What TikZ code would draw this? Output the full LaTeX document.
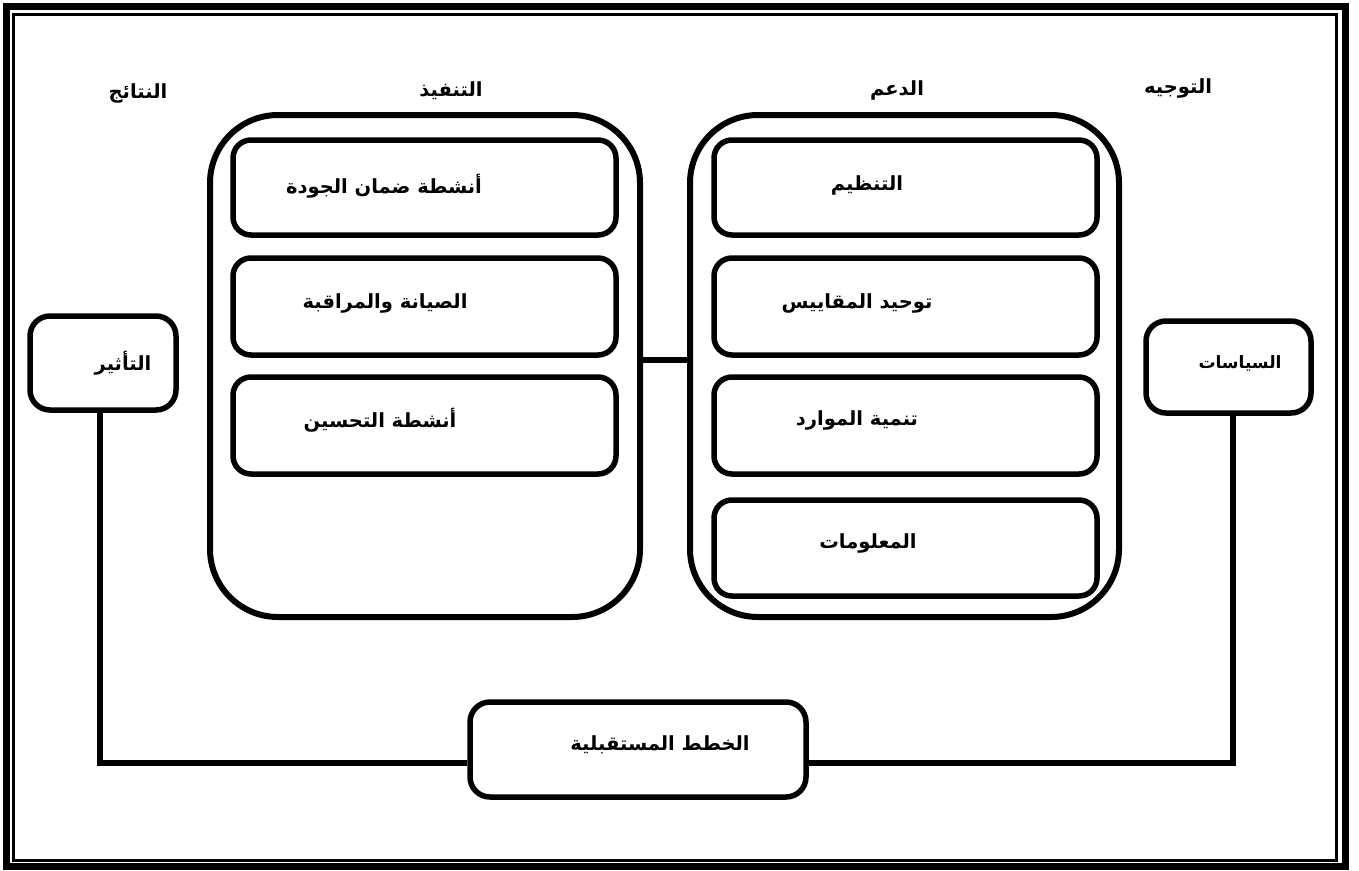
\documentclass[tikz,border=0pt]{standalone}
\usepackage{fontspec}
\newfontfamily\arabicfont[Script=Arabic]{DejaVu Sans}
\TeXXeTstate=1
\newcommand{\ar}[1]{\arabicfont\bfseries\beginR #1\endR}
\begin{document}
\begin{tikzpicture}[x=1pt,y=-1pt,
  bigbox/.style={draw, line width=6pt, rounded corners=68pt, inner sep=0pt},
  innerbox/.style={draw, line width=5.5pt, rounded corners=18pt, inner sep=0pt, minimum width=383pt},
  smallbox/.style={draw, line width=5.5pt, rounded corners=20pt, inner sep=0pt},
  lbl/.style={inner sep=0pt, font=\fontsize{19.5}{23}\selectfont},
  conn/.style={line width=5.5pt}]
\useasboundingbox (0,0) rectangle (1359,870);
% frame
\draw[line width=7pt] (6.5,6.5) rectangle (1345.5,866.5);
\draw[line width=3pt] (13.5,14) rectangle (1336.5,860.5);
% big boxes
\node[bigbox, minimum width=430pt, minimum height=502pt] (impl) at (425,366) {};
\node[bigbox, minimum width=429pt, minimum height=502pt] (supp) at (904.5,366) {};
% inner boxes left
\node[innerbox, minimum height=95pt] (i1) at (424.5,187.5) {};
\node[innerbox, minimum height=97pt] (i2) at (424.5,306.5) {};
\node[innerbox, minimum height=97pt] (i3) at (424.5,425.5) {};
% inner boxes right
\node[innerbox, minimum height=95pt] (s1) at (905.5,187.5) {};
\node[innerbox, minimum height=97pt] (s2) at (905.5,306.5) {};
\node[innerbox, minimum height=97pt] (s3) at (905.5,425.5) {};
\node[innerbox, minimum height=96pt] (s4) at (905.5,548) {};
% small boxes
\node[smallbox, minimum width=146pt, minimum height=94pt] (eff) at (103,363) {};
\node[smallbox, minimum width=165pt, minimum height=92pt] (pol) at (1228.5,367) {};
\node[smallbox, minimum width=336pt, minimum height=95pt] (plans) at (638,749.5) {};
% connectors
\draw[conn] ([yshift=6pt]impl.east) -- ([yshift=6pt]supp.west);
\draw[conn] ([xshift=-3pt]eff.south) |- ([yshift=-13.5pt]plans.west);
\draw[conn] ([xshift=4.5pt]pol.south) |- ([yshift=-13.5pt]plans.east);
% headers
\node[lbl] (hres) at (138,93) {\ar{النتائج}};
\node[lbl] (himpl) at (451,91) {\ar{التنفيذ}};
\node[lbl] (hsupp) at (897,90) {\ar{الدعم}};
\node[lbl] (hdir) at (1178,88) {\ar{التوجيه}};
% inner texts
\node[lbl] (t1) at (384,186) {\ar{أنشطة ضمان الجودة}};
\node[lbl] (t2) at (385,303) {\ar{الصيانة والمراقبة}};
\node[lbl] (t3) at (380,420) {\ar{أنشطة التحسين}};
\node[lbl] (u1) at (867,185) {\ar{التنظيم}};
\node[lbl] (u2) at (857,303) {\ar{توحيد المقاييس}};
\node[lbl] (u3) at (857,420) {\ar{تنمية الموارد}};
\node[lbl] (u4) at (868,543) {\ar{المعلومات}};
\node[lbl] (te) at (123,363) {\ar{التأثير}};
\node[lbl, font=\fontsize{17}{20}\selectfont] (tp) at (1240,363) {\ar{السياسات}};
\node[lbl] (tpl) at (660,745) {\ar{الخطط المستقبلية}};
\end{tikzpicture}
\end{document}
